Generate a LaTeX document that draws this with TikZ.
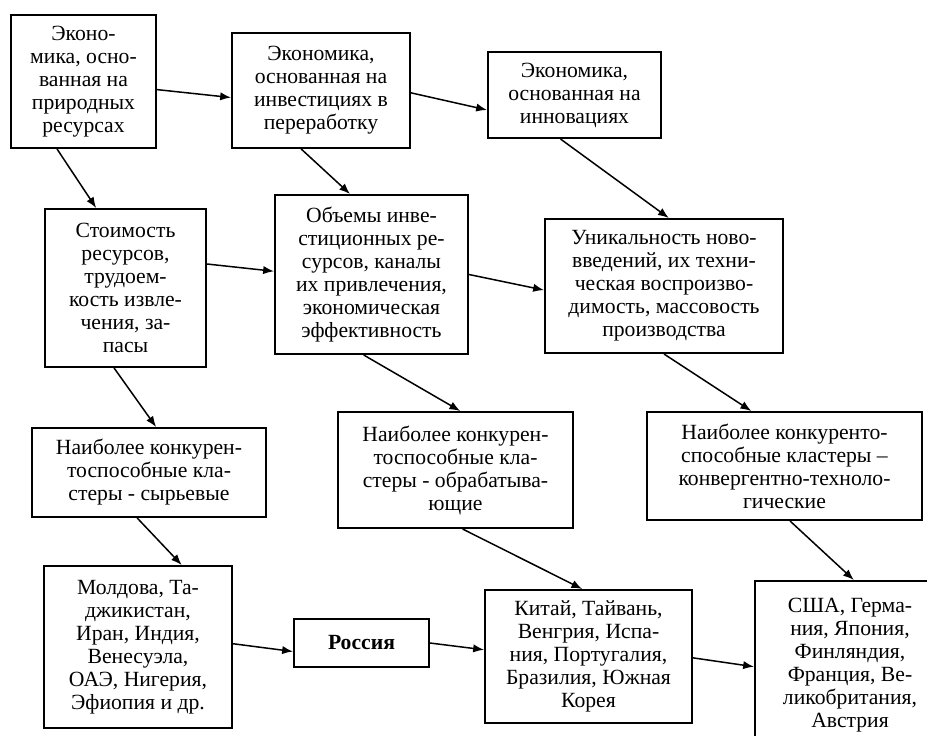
\documentclass[tikz,border=0pt]{standalone}
\usepackage{fontspec}
\setmainfont{Liberation Serif}
\usepackage{tikz}
\usetikzlibrary{calc,arrows.meta}
\tikzset{
	blok/.style={draw, line width=1.2pt, align=center, inner sep=0pt, font=\fontsize{13}{13.8}\selectfont}, % rectangle with the text
	razm/.style 2 args={minimum width=#1*0.6pt, minimum height=#2*0.6pt}, % size in pixels
	strel/.style={-{Latex[length=6.5pt,width=5pt]}, line width=0.9pt}
}

\begin{document}
\begin{tikzpicture}[x=0.6pt,y=-0.6pt]
			% picture size in pixels
			\useasboundingbox (0,0) rectangle (927,735);
			\clip (0,0) rectangle (927,735);
			
			% top row: types of economy
			\node[blok, razm={145}{133}] (ekprir) at (83.5,81.5) {Эконо-\\мика, осно-\\ванная на\\природных\\ресурсах};
			\node[blok, razm={178}{115}] (ekinv) at (321,90.5) {Экономика,\\основанная на\\инвестициях в\\переработку};
			\node[blok, razm={173}{86}] (ekinn) at (574.5,95) {Экономика,\\основанная на\\инновациях};
			
			% second row: factors
			\node[blok, razm={161}{158}] (stoim) at (125.5,288) {Стоимость\\ресурсов,\\трудоем-\\кость извле-\\чения, за-\\пасы};
			\node[blok, razm={193}{159}] (obem) at (371.5,274.5) {Объемы инве-\\стиционных ре-\\сурсов, каналы\\их привлечения,\\экономическая\\эффективность};
			\node[blok, razm={238}{134}] (unik) at (664,286) {Уникальность ново-\\введений, их техни-\\ческая воспроизво-\\димость, массовость\\производства};
			
			% third row: clusters
			\node[blok, razm={234}{89}] (klsyr) at (149,472.5) {Наиболее конкурен-\\тоспособные кла-\\стеры - сырьевые};
			\node[blok, razm={235}{116}] (klobr) at (455.5,470) {Наиболее конкурен-\\тоспособные кла-\\стеры - обрабатыва-\\ющие};
			\node[blok, razm={275}{108}] (klkon) at (784.5,466) {Наиболее конкуренто-\\способные кластеры –\\конвергентно-техноло-\\гические};
			
			% bottom row: countries
			\node[blok, razm={188}{162}] (strsyr) at (138,647) {Молдова, Та-\\джикистан,\\Иран, Индия,\\Венесуэла,\\ОАЭ, Нигерия,\\Эфиопия и др.};
			\node[blok, razm={135}{48}] (rossia) at (361.5,643) {\textbf{Россия}};
			\node[blok, razm={207}{133}] (strobr) at (588.5,656.5) {Китай, Тайвань,\\Венгрия, Испа-\\ния, Португалия,\\Бразилия, Южная\\Корея};
			\node[blok, razm={190}{168}] (strkon) at (850,665) {США, Герма-\\ния, Япония,\\Финляндия,\\Франция, Ве-\\ликобритания,\\Австрия};
			
			% arrows between the economies
			\draw[strel] ($(ekprir.north east)!.56!(ekprir.south east)$) -- ($(ekinv.north west)!.56!(ekinv.south west)$);
			\draw[strel] ($(ekinv.north east)!.52!(ekinv.south east)$) -- ($(ekinn.north west)!.67!(ekinn.south west)$);
			
			% arrows down to the factors
			\draw[strel] ($(ekprir.south west)!.32!(ekprir.south east)$) -- ($(stoim.north west)!.32!(stoim.north east)$);
			\draw[strel] ($(ekinv.south west)!.39!(ekinv.south east)$) -- ($(obem.north west)!.39!(obem.north east)$);
			\draw[strel] ($(ekinn.south west)!.42!(ekinn.south east)$) -- ($(unik.north west)!.52!(unik.north east)$);
			\draw[strel] ($(stoim.north east)!.35!(stoim.south east)$) -- ($(obem.north west)!.48!(obem.south west)$);
			\draw[strel] ($(obem.north east)!.50!(obem.south east)$) -- ($(unik.north west)!.53!(unik.south west)$);
			
			% arrows down to the clusters
			\draw[strel] ($(stoim.south west)!.43!(stoim.south east)$) -- ($(klsyr.north west)!.53!(klsyr.north east)$);
			\draw[strel] ($(obem.south west)!.46!(obem.south east)$) -- ($(klobr.north west)!.52!(klobr.north east)$);
			\draw[strel] ($(unik.south west)!.50!(unik.south east)$) -- ($(klkon.north west)!.38!(klkon.north east)$);
			
			% arrows down to the countries
			\draw[strel] ($(klsyr.south west)!.45!(klsyr.south east)$) -- ($(strsyr.north west)!.73!(strsyr.north east)$);
			\draw[strel] ($(klobr.south west)!.53!(klobr.south east)$) -- ($(strobr.north west)!.47!(strobr.north east)$);
			\draw[strel] ($(klkon.south west)!.52!(klkon.south east)$) -- ($(strkon.north west)!.52!(strkon.north east)$);
			
			% bottom chain
			\draw[strel] ($(strsyr.north east)!.48!(strsyr.south east)$) -- ($(rossia.north west)!.67!(rossia.south west)$);
			\draw[strel] (rossia.east) -- ($(strobr.north west)!.45!(strobr.south west)$);
			\draw[strel] ($(strobr.north east)!.51!(strobr.south east)$) -- ($(strkon.north west)!.51!(strkon.south west)$);
			
\end{tikzpicture}
\end{document}
